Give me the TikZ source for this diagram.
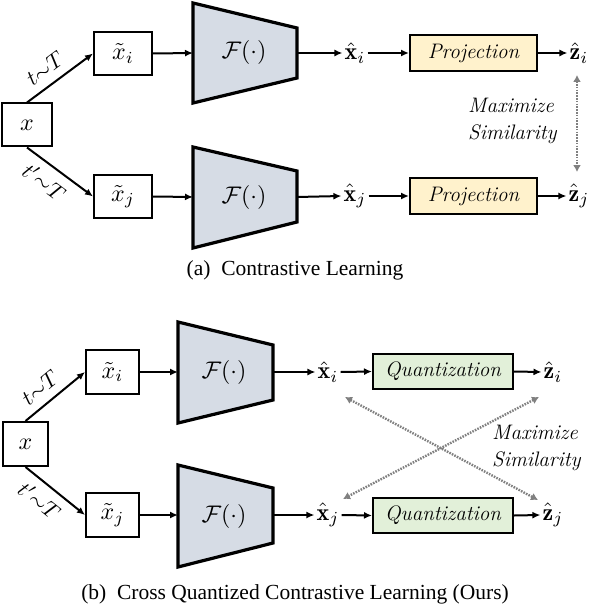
\documentclass[tikz,border=0pt]{standalone}
\usepackage{amsmath}
\usepackage{graphicx}
\usepackage{fontspec}
\newfontfamily\capfont{Liberation Serif}
\usetikzlibrary{arrows.meta,calc}
\definecolor{encfill}{HTML}{D6DCE5}
\definecolor{projfill}{HTML}{FFF2CC}
\definecolor{quantfill}{HTML}{E2F0D9}
\definecolor{simgray}{HTML}{808080}
\newcommand{\mth}[1]{\scalebox{2.4}{$#1$}}
\newcommand{\smth}[1]{\scalebox{2.2}{$#1$}}
\tikzset{
  box/.style={draw, line width=2pt, inner sep=0pt, fill=white},
  enc/.style={draw, line width=3.2pt, fill=encfill, line join=miter},
  arr/.style={-{Latex[length=8pt,width=7pt]}, line width=2pt},
  simarr/.style={{Latex[length=7pt,width=8pt]}-{Latex[length=7pt,width=8pt]}, line width=2.4pt, draw=simgray, dash pattern=on 1.6pt off 1.2pt},
  lab/.style={font=\itshape\fontsize{21}{27}\selectfont},
  vec/.style={inner sep=2pt},
  samp/.style={inner sep=2pt},
  captext/.style={font=\capfont\fontsize{21.5}{26}\selectfont}
}
\begin{document}
\begin{tikzpicture}[x=1pt,y=-1pt]
\useasboundingbox (0,0) rectangle (592,604);
% ---------------- (a) ----------------
\node[box, minimum width=50, minimum height=43] (xa) at (27,125) {\mth{x}};
\node[box, minimum width=58, minimum height=43] (xia) at (123,53.5) {\mth{\tilde{x}_i}};
\node[box, minimum width=58, minimum height=43] (xja) at (123,196.5) {\mth{\tilde{x}_j}};
\draw[enc] (193,3) -- (297,28) -- (297,78) -- (193,103) -- cycle;
\draw[enc] (193,147) -- (297,171) -- (297,222) -- (193,248) -- cycle;
\node (fia) at (244,53) {\mth{\mathcal{F}(\cdot)}};
\node (fja) at (244,197) {\mth{\mathcal{F}(\cdot)}};
\coordinate (fiaw) at (193,53);
\coordinate (fiae) at (297,53);
\coordinate (fjaw) at (193,197);
\coordinate (fjae) at (297,197);
\node[vec] (hxia) at (355,53) {\mth{\hat{\mathbf{x}}_i}};
\node[vec] (hxja) at (355,196) {\mth{\hat{\mathbf{x}}_j}};
\node[box, lab, fill=projfill, minimum width=127, minimum height=36] (pia) at (473.5,53) {Projection};
\node[box, lab, fill=projfill, minimum width=127, minimum height=36] (pja) at (473.5,196) {Projection};
\node[vec] (hzia) at (579,53) {\mth{\hat{\mathbf{z}}_i}};
\node[vec] (hzja) at (579,196) {\mth{\hat{\mathbf{z}}_j}};
\draw[arr] (xa.north) -- node[samp, pos=0.42, above=6pt, sloped] {\smth{t{\sim}T}} (xia.west);
\draw[arr] (xa.south) -- node[samp, pos=0.42, below=6pt, sloped] {\smth{t'{\sim}T}} (xja.west);
\draw[arr] (xia.east) -- (fiaw);
\draw[arr] (xja.east) -- (fjaw);
\draw[arr] (fiae) -- (hxia.west);
\draw[arr] (fjae) -- (hxja.west);
\draw[arr] (hxia.east) -- (pia.west);
\draw[arr] (hxja.east) -- (pja.west);
\draw[arr] (pia.east) -- (hzia.west);
\draw[arr] (pja.east) -- (hzja.west);
\coordinate (sa1) at (577,75);
\coordinate (sa2) at (577,172);
\draw[simarr] (sa1) -- (sa2);
\node[lab, align=left, anchor=west, inner sep=0pt] (msa) at (468,121) {Maximize\\Similarity};
\node[captext] (capa) at (295,270) {(a)\ \ Contrastive Learning};
% ---------------- (b) ----------------
\node[box, minimum width=45, minimum height=44] (xb) at (25.5,444) {\mth{x}};
\node[box, minimum width=53, minimum height=44] (xib) at (112.5,372) {\mth{\tilde{x}_i}};
\node[box, minimum width=53, minimum height=44] (xjb) at (112.5,515) {\mth{\tilde{x}_j}};
\draw[enc] (178,322) -- (273,345) -- (273,400) -- (178,423) -- cycle;
\draw[enc] (178,465) -- (273,488) -- (273,543) -- (178,567) -- cycle;
\node (fib) at (224,372) {\mth{\mathcal{F}(\cdot)}};
\node (fjb) at (224,516) {\mth{\mathcal{F}(\cdot)}};
\coordinate (fibw) at (178,372);
\coordinate (fibe) at (273,372);
\coordinate (fjbw) at (178,515);
\coordinate (fjbe) at (273,515);
\node[vec] (hxib) at (328,372) {\mth{\hat{\mathbf{x}}_i}};
\node[vec] (hxjb) at (328,515) {\mth{\hat{\mathbf{x}}_j}};
\node[box, lab, fill=quantfill, minimum width=140, minimum height=35] (qib) at (443,371.5) {Quantization};
\node[box, lab, fill=quantfill, minimum width=140, minimum height=35] (qjb) at (443,515.5) {Quantization};
\node[vec] (hzib) at (553,372) {\mth{\hat{\mathbf{z}}_i}};
\node[vec] (hzjb) at (553,515) {\mth{\hat{\mathbf{z}}_j}};
\draw[arr] (xb.north) -- node[samp, pos=0.42, above=6pt, sloped] {\smth{t{\sim}T}} (xib.west);
\draw[arr] (xb.south) -- node[samp, pos=0.42, below=6pt, sloped] {\smth{t'{\sim}T}} (xjb.west);
\draw[arr] (xib.east) -- (fibw);
\draw[arr] (xjb.east) -- (fjbw);
\draw[arr] (fibe) -- (hxib.west);
\draw[arr] (fjbe) -- (hxjb.west);
\draw[arr] (hxib.east) -- (qib.west);
\draw[arr] (hxjb.east) -- (qjb.west);
\draw[arr] (qib.east) -- (hzib.west);
\draw[arr] (qjb.east) -- (hzjb.west);
\coordinate (cb1) at (345,397);
\coordinate (cb2) at (538,500);
\coordinate (cb3) at (539,397);
\coordinate (cb4) at (343,499);
\draw[simarr] (cb1) -- (cb2);
\draw[simarr] (cb3) -- (cb4);
\node[lab, align=left, anchor=west, inner sep=0pt] (msb) at (492,448) {Maximize\\Similarity};
\node[captext] (capb) at (295,594) {(b)\ \ Cross Quantized Contrastive Learning (Ours)};
\end{tikzpicture}
\end{document}
